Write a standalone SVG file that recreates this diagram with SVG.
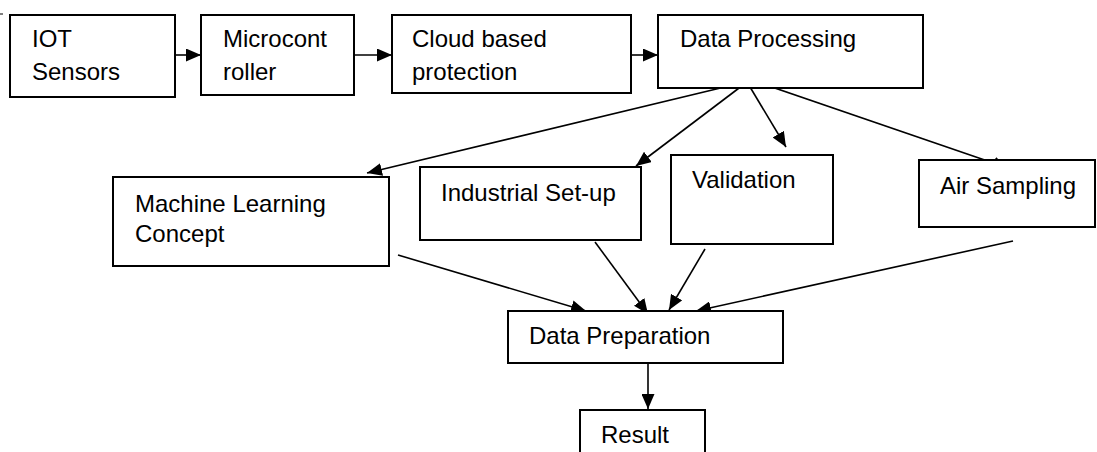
<svg xmlns="http://www.w3.org/2000/svg" width="1097" height="452" viewBox="0 0 1097 452">
<defs>
<marker id="ah" markerUnits="userSpaceOnUse" markerWidth="15" markerHeight="13" viewBox="0 0 15 13" refX="15" refY="6.5" orient="auto">
<path d="M0,0 L15,6.5 L0,13 z" fill="#000"/>
</marker>
<style>
.box{fill:#fff;stroke:#000;stroke-width:2}
.t{font-family:"Liberation Sans",Arial,sans-serif;font-size:24px;fill:#000}
.c{fill:none;stroke:#000;stroke-width:1.6;marker-end:url(#ah)}
</style>
</defs>
<rect width="1097" height="452" fill="#fff"/>
<line x1="0" y1="14" x2="3" y2="14" stroke="#000" stroke-width="1"/>
<g id="connectors">
<line class="c" x1="175" y1="55" x2="201" y2="55"/>
<line class="c" x1="354" y1="55" x2="392" y2="55"/>
<line class="c" x1="631" y1="55" x2="658" y2="55"/>
<line class="c" x1="733" y1="85" x2="367" y2="173"/>
<line class="c" x1="747" y1="82" x2="636" y2="166"/>
<line class="c" x1="747" y1="82" x2="786" y2="147"/>
<line class="c" x1="757" y1="82" x2="1008" y2="168"/>
<line class="c" x1="398" y1="255" x2="586" y2="311"/>
<line class="c" x1="595" y1="242" x2="648" y2="314"/>
<line class="c" x1="705" y1="249" x2="669" y2="310"/>
<line class="c" x1="1013" y1="241" x2="696" y2="311"/>
<line class="c" x1="648" y1="363" x2="648" y2="409"/>
</g>
<g id="iot"><rect class="box" x="10" y="15" width="165" height="82"/><text class="t" x="32" y="47">IOT</text><text class="t" x="32" y="80">Sensors</text></g>
<g id="micro"><rect class="box" x="201" y="15" width="153" height="80"/><text class="t" x="223" y="47">Microcont</text><text class="t" x="223" y="80">roller</text></g>
<g id="cloud"><rect class="box" x="392" y="15" width="239" height="78"/><text class="t" x="412" y="47">Cloud based</text><text class="t" x="412" y="80">protection</text></g>
<g id="dataproc"><rect class="box" x="658" y="15" width="265" height="73"/><text class="t" x="680" y="47">Data Processing</text></g>
<g id="ml"><rect class="box" x="113" y="177" width="276" height="89"/><text class="t" x="135" y="212">Machine Learning</text><text class="t" x="135" y="242">Concept</text></g>
<g id="industrial"><rect class="box" x="420" y="167" width="221" height="73"/><text class="t" x="441" y="201">Industrial Set-up</text></g>
<g id="validation"><rect class="box" x="671" y="155" width="162" height="89"/><text class="t" x="692" y="188">Validation</text></g>
<g id="air"><rect class="box" x="919" y="160" width="176" height="67"/><text class="t" x="940" y="194">Air Sampling</text></g>
<g id="dataprep"><rect class="box" x="508" y="311" width="275" height="52"/><text class="t" x="529" y="344">Data Preparation</text></g>
<g id="result"><rect class="box" x="580" y="410" width="125" height="50"/><text class="t" x="601" y="443">Result</text></g>
</svg>
